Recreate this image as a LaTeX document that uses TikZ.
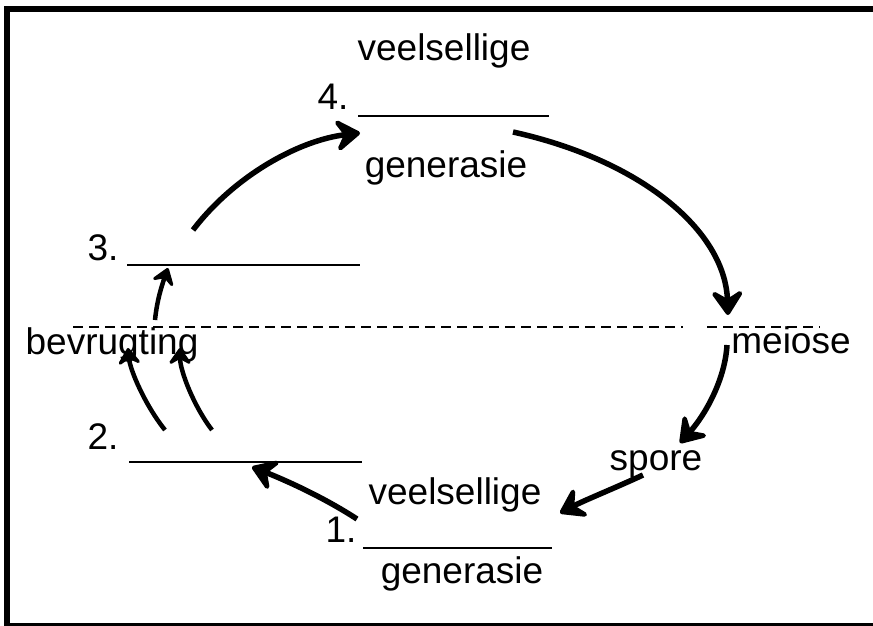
\documentclass[tikz,border=0pt]{standalone}
\usepackage{fontspec}
\setmainfont{Liberation Sans}
\usetikzlibrary{arrows.meta}
\begin{document}
\begin{tikzpicture}[x=1pt,y=-1pt,
  lbl/.style={anchor=base,inner sep=0pt,font=\fontsize{37}{42}\selectfont},
  blank/.style={line width=2pt},
  sep/.style={line width=2pt,dash pattern=on 10pt off 6pt},
  bigarrow/.style={line width=5.5pt,-{Stealth[length=30pt 0,width=40pt 0,inset=12pt 0,round]}},
  smallarrow/.style={line width=4.5pt,-{Stealth[length=20pt 0,width=28pt 0,inset=8pt 0,round]}},
  frame/.style={line width=6pt}]
\useasboundingbox (0,0) rectangle (873,626);
% frame
\draw[frame] (873,9.5) -- (7,9.5) -- (7,626);
\draw[line width=3pt] (4,624.5) -- (873,624.5);
% texts
\node[lbl] (v4) at (444,61) {veelsellige};
\node[lbl] (n4) at (333,110) {4.};
\node[lbl] (g4) at (446,177) {generasie};
\node[lbl] (n3) at (103,260) {3.};
\node[lbl] (bev) at (112,354) {bevrugting};
\node[lbl] (n2) at (103,449) {2.};
\node[lbl] (v1) at (455,504) {veelsellige};
\node[lbl] (n1) at (341,542) {1.};
\node[lbl] (g1) at (462,583) {generasie};
\node[lbl] (mei) at (791,353) {meiose};
\node[lbl] (spo) at (656,470) {spore};
% blanks
\coordinate (l4a) at (358,116); \coordinate (l4b) at (549,116);
\coordinate (l3a) at (127,265); \coordinate (l3b) at (360,265);
\coordinate (l2a) at (129,462); \coordinate (l2b) at (362,462);
\coordinate (l1a) at (363,548); \coordinate (l1b) at (552,548);
\draw[blank] (l4a) -- (l4b);
\draw[blank] (l3a) -- (l3b);
\draw[blank] (l2a) -- (l2b);
\draw[blank] (l1a) -- (l1b);
% dashed separator
\coordinate (d1) at (73,327); \coordinate (d2) at (683,327);
\coordinate (d3) at (707,327); \coordinate (d4) at (820,327);
\draw[sep] (d1) -- (d2);
\draw[sep] (d3) -- (d4);
% arrow end points
\coordinate (a3s) at (193,230); \coordinate (a3e) at (360,133);
\coordinate (a4s) at (513,132); \coordinate (a4e) at (728,315);
\coordinate (ams) at (727,345); \coordinate (ame) at (680,443);
\coordinate (ass) at (643,475); \coordinate (ase) at (560,513);
\coordinate (a1s) at (357,519); \coordinate (a1e) at (252,467);
\coordinate (f1s) at (165,430); \coordinate (f1e) at (128,348);
\coordinate (f2s) at (212,430); \coordinate (f2e) at (180,348);
\coordinate (gs) at (155,320); \coordinate (ge) at (168,268);
% arrows
\draw[bigarrow] (a3s) .. controls (235,175) and (300,140) .. (a3e);
\draw[bigarrow] (a4s) .. controls (640,160) and (725,230) .. (a4e);
\draw[bigarrow] (ams) .. controls (725,380) and (705,415) .. (ame);
\draw[bigarrow] (ass) .. controls (615,488) and (585,500) .. (ase);
\draw[bigarrow] (a1s) .. controls (320,495) and (280,478) .. (a1e);
\draw[smallarrow] (f1s) .. controls (145,405) and (130,370) .. (f1e);
\draw[smallarrow] (f2s) .. controls (193,405) and (180,370) .. (f2e);
\draw[smallarrow] (gs) .. controls (157,300) and (162,285) .. (ge);
\end{tikzpicture}
\end{document}
